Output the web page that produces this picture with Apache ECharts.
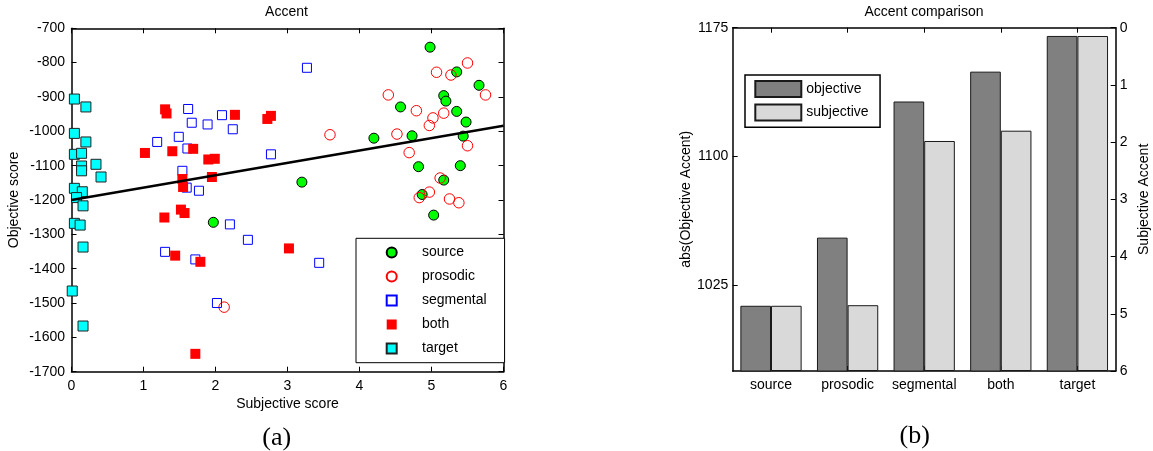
<!DOCTYPE html>
<html><head><meta charset="utf-8">
<script src="https://cdn.jsdelivr.net/npm/echarts@6/dist/echarts.min.js"></script>
<style>html,body{margin:0;padding:0;background:#fff}#c{width:1153px;height:451px}</style>
</head><body><div id="c"></div>
<script>
// ---- Panel (a): scatter data [subjective score, objective score] ----
const sourcePts = [[4.98,-755],[5.35,-827],[5.66,-866],[5.17,-896],[5.2,-912],[4.57,-929],[5.35,-942],[5.48,-973],[5.44,-1014],[4.2,-1020],[4.73,-1013],[3.2,-1148],[4.82,-1103],[5.4,-1100],[5.17,-1142],[4.87,-1184],[5.03,-1244],[1.97,-1265]];
const prosodicPts = [[5.5,-801],[5.07,-828],[5.27,-836],[5.75,-894],[4.4,-894],[4.79,-940],[5.02,-961],[5.17,-947],[4.97,-983],[3.59,-1010],[4.52,-1008],[5.5,-1042],[4.69,-1062],[5.12,-1136],[4.97,-1177],[4.83,-1193],[5.25,-1197],[5.38,-1208],[2.12,-1512]];
const segmentalPts = [[3.27,-815],[1.62,-935],[1.67,-975],[1.89,-980],[2.09,-953],[2.24,-994],[1.19,-1031],[1.49,-1016],[1.61,-1050],[2.77,-1067],[1.54,-1115],[1.6,-1164],[1.77,-1173],[2.2,-1271],[2.45,-1316],[1.3,-1351],[1.72,-1373],[2.02,-1500],[3.44,-1383]];
const bothPts = [[1.3,-936],[1.32,-948],[2.27,-952],[2.72,-964],[2.77,-955],[1.02,-1063],[1.4,-1058],[1.69,-1051],[1.9,-1082],[1.99,-1080],[1.95,-1133],[1.54,-1139],[1.55,-1162],[1.29,-1251],[1.52,-1228],[1.57,-1238],[1.44,-1362],[1.79,-1380],[3.02,-1341],[1.72,-1648]];
const targetPts = [[0.04,-906],[0.2,-929],[0.04,-1006],[0.2,-1031],[0.04,-1067],[0.14,-1064],[0.14,-1101],[0.14,-1115],[0.34,-1096],[0.41,-1133],[0.04,-1166],[0.15,-1176],[0.07,-1193],[0.16,-1217],[0.04,-1268],[0.12,-1273],[0.16,-1337],[0.01,-1465],[0.16,-1567]];
const fitLine = [[0,-1200],[6,-984]];
const scatterNames = ['source','prosodic','segmental','both','target'];

// ---- Panel (b): bar data ----
const categories = ['source','prosodic','segmental','both','target'];
const objective = [1013, 1052.7, 1132, 1149.4, 1170.2];
const subjective = [4.86, 4.85, 1.98, 1.80, 0.145];
const objectiveTicks = [1025, 1100, 1175];
const subjectiveMax = 6;

const FONT = 'Liberation Sans, Arial, sans-serif';
const axisLine = {show:true, onZero:false, lineStyle:{color:'#000', width:1.5}};
const tickIn = {show:true, inside:true, length:5, lineStyle:{color:'#000', width:1}};
const plain = v => String(v);
const lbl = {color:'#000', fontSize:14, fontFamily:FONT, formatter:plain};
const catLbl = {color:'#000', fontSize:14, fontFamily:FONT};
const nameStyle = {color:'#000', fontSize:14, fontFamily:FONT};

const chart = echarts.init(document.getElementById('c'), null, {renderer:'canvas'});
chart.setOption({
  animation:false,
  backgroundColor:'#fff',
  textStyle:{fontFamily:FONT},
  grid:[
    {left:71.5, top:28.3, width:432, height:343.4, containLabel:false},
    {left:732.7, top:27.7, width:383, height:343.3, containLabel:false}
  ],
  xAxis:[
    {gridIndex:0, type:'value', min:0, max:6, interval:1, position:'bottom',
     axisLine, axisTick:tickIn, splitLine:{show:false},
     axisLabel:Object.assign({margin:7}, lbl),
     name:'Subjective score', nameLocation:'middle', nameGap:25, nameTextStyle:nameStyle},
    {gridIndex:0, type:'value', min:0, max:6, interval:1, position:'top',
     axisLine, axisTick:tickIn, splitLine:{show:false}, axisLabel:{show:false}},
    {gridIndex:1, type:'category', data:categories, position:'bottom',
     axisLine, axisTick:Object.assign({alignWithLabel:true}, tickIn), splitLine:{show:false},
     axisLabel:Object.assign({margin:7, interval:0}, catLbl)},
    {gridIndex:1, type:'category', data:categories, position:'top',
     axisLine, axisTick:Object.assign({alignWithLabel:true}, tickIn), splitLine:{show:false},
     axisLabel:{show:false}}
  ],
  yAxis:[
    {gridIndex:0, type:'value', min:-1700, max:-700, interval:100, position:'left',
     axisLine, axisTick:tickIn, splitLine:{show:false},
     axisLabel:Object.assign({margin:6.5}, lbl),
     name:'Objective score', nameLocation:'middle', nameGap:50, nameRotate:90, nameTextStyle:nameStyle},
    {gridIndex:0, type:'value', min:-1700, max:-700, interval:100, position:'right',
     axisLine, axisTick:tickIn, splitLine:{show:false}, axisLabel:{show:false}},
    {gridIndex:1, type:'value', min:975, max:1175, position:'left',
     axisLine, axisTick:Object.assign({customValues:objectiveTicks}, tickIn), splitLine:{show:false},
     axisLabel:Object.assign({margin:4.5, customValues:objectiveTicks}, lbl),
     name:'abs(Objective Accent)', nameLocation:'middle', nameGap:40, nameRotate:90, nameTextStyle:nameStyle},
    {gridIndex:1, type:'value', min:0, max:subjectiveMax, interval:1, inverse:true, position:'right',
     axisLine, axisTick:tickIn, splitLine:{show:false},
     axisLabel:Object.assign({margin:4}, lbl),
     name:'Subjective Accent', nameLocation:'middle', nameGap:21, nameRotate:90, nameTextStyle:nameStyle}
  ],
  legend:[
    {data:scatterNames, orient:'vertical', left:356, top:238.3,
     itemWidth:10, itemHeight:10, itemGap:8, selectedMode:false,
     padding:[6.2,18,6.2,29.7], borderColor:'#000', borderWidth:1, backgroundColor:'#fff',
     textStyle:{color:'#000', fontSize:14, lineHeight:16, fontFamily:FONT, padding:[0,0,0,20.3]}},
    {data:['objective','subjective'], orient:'vertical', left:745, top:75, icon:'rect',
     itemWidth:46, itemHeight:16, itemGap:5.6, selectedMode:false,
     padding:[5,11.5,5.7,9.3], borderColor:'#000', borderWidth:1.5, backgroundColor:'#fff',
     textStyle:{color:'#000', fontSize:14, lineHeight:16, fontFamily:FONT}}
  ],
  series:[
    {name:'source', type:'scatter', xAxisIndex:0, yAxisIndex:0, data:sourcePts, symbol:'circle', symbolSize:10,
     itemStyle:{color:'#00ff00', borderColor:'#000', borderWidth:1, opacity:1}},
    {name:'prosodic', type:'scatter', xAxisIndex:0, yAxisIndex:0, data:prosodicPts, symbol:'circle', symbolSize:10.5,
     itemStyle:{color:'rgba(255,255,255,0)', borderColor:'#ff0000', borderWidth:1, opacity:1}},
    {name:'segmental', type:'scatter', xAxisIndex:0, yAxisIndex:0, data:segmentalPts, symbol:'rect', symbolSize:9,
     itemStyle:{color:'rgba(255,255,255,0)', borderColor:'#0000ff', borderWidth:1, opacity:1}},
    {name:'both', type:'scatter', xAxisIndex:0, yAxisIndex:0, data:bothPts, symbol:'rect', symbolSize:10,
     itemStyle:{color:'#ff0000', opacity:1}},
    {name:'target', type:'scatter', xAxisIndex:0, yAxisIndex:0, data:targetPts, symbol:'rect', symbolSize:10,
     itemStyle:{color:'#00ffff', borderColor:'#222', borderWidth:1, opacity:1}},
    {name:'fit', type:'line', xAxisIndex:0, yAxisIndex:0, data:fitLine, symbol:'none', z:5, silent:true,
     lineStyle:{color:'#000', width:2.5}},
    {name:'objective', type:'bar', xAxisIndex:2, yAxisIndex:2, data:objective,
     barGap:'0%', barCategoryGap:'20%',
     itemStyle:{color:'#808080', borderColor:'#1a1a1a', borderWidth:1}},
    {name:'subjBase', type:'bar', xAxisIndex:2, yAxisIndex:3, stack:'subj', data:subjective, silent:true,
     itemStyle:{color:'rgba(0,0,0,0)', borderWidth:0}},
    {name:'subjective', type:'bar', xAxisIndex:2, yAxisIndex:3, stack:'subj',
     data:subjective.map(v => subjectiveMax - v),
     itemStyle:{color:'#d9d9d9', borderColor:'#1a1a1a', borderWidth:1}}
  ],
  graphic:[
    {type:'text', x:286.5, y:12, style:{text:'Accent', fontSize:14, fontFamily:FONT, fill:'#000', textAlign:'center', textVerticalAlign:'middle', align:'center', verticalAlign:'middle'}},
    {type:'text', x:924, y:12, style:{text:'Accent comparison', fontSize:14, fontFamily:FONT, fill:'#000', textAlign:'center', textVerticalAlign:'middle', align:'center', verticalAlign:'middle'}},
    {type:'text', x:276.7, y:438, style:{text:'(a)', fontSize:26, fontFamily:'Liberation Serif, Times New Roman, serif', fill:'#000', textAlign:'center', textVerticalAlign:'middle', align:'center', verticalAlign:'middle'}},
    {type:'text', x:914.7, y:436, style:{text:'(b)', fontSize:26, fontFamily:'Liberation Serif, Times New Roman, serif', fill:'#000', textAlign:'center', textVerticalAlign:'middle', align:'center', verticalAlign:'middle'}}
  ]
});
</script>
</body></html>
